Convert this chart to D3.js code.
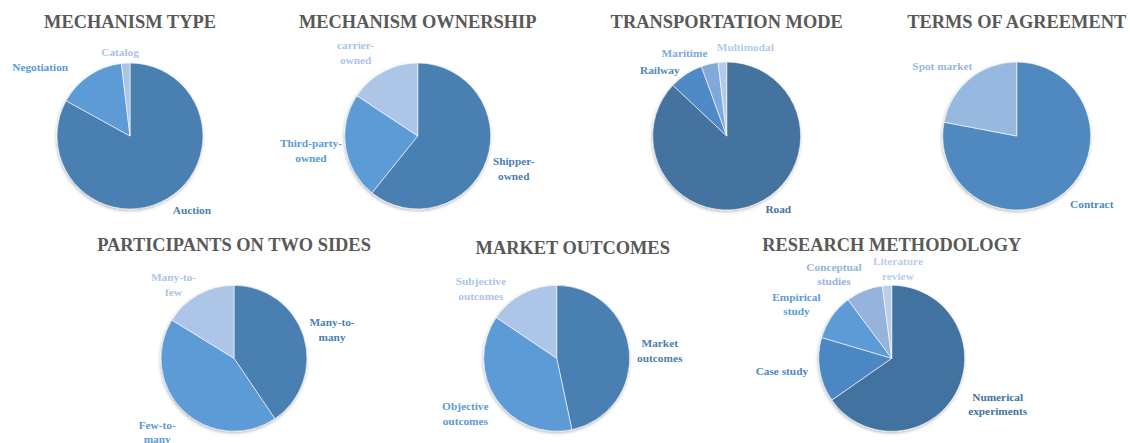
<!DOCTYPE html>
<html>
<head>
<meta charset="utf-8">
<script src="https://cdn.jsdelivr.net/npm/d3@7"></script>
<style>
  body { margin: 0; background: #fff; }
  svg { display: block; }
</style>
</head>
<body>
<script>
// data (counts of papers per category)
const mechanismType = ["Auction", "Negotiation", "Catalog"];
const mechanismTypeValues = [44, 8, 1];

const ownership = ["Shipper-owned", "Third-party-owned", "carrier-owned"];
const ownershipValues = [31, 12, 8];

const transportMode = ["Road", "Railway", "Maritime", "Multimodal"];
const transportModeValues = [47, 4, 2, 1];

const agreement = ["Contract", "Spot market"];
const agreementValues = [39, 11];

const participants = ["Many-to-many", "Few-to-many", "Many-to-few"];
const participantsValues = [15, 16, 6];

const outcomes = ["Market outcomes", "Objective outcomes", "Subjective outcomes"];
const outcomesValues = [21, 17, 7];

const methodology = ["Numerical experiments", "Case study", "Empirical study", "Conceptual studies", "Literature review"];
const methodologyValues = [32, 7, 5, 4, 1];

// label line breaks as in the chart
const labelLines = {
  "Shipper-owned": ["Shipper-", "owned"],
  "Third-party-owned": ["Third-party-", "owned"],
  "carrier-owned": ["carrier-", "owned"],
  "Many-to-many": ["Many-to-", "many"],
  "Few-to-many": ["Few-to-", "many"],
  "Many-to-few": ["Many-to-", "few"],
  "Market outcomes": ["Market", "outcomes"],
  "Objective outcomes": ["Objective", "outcomes"],
  "Subjective outcomes": ["Subjective", "outcomes"],
  "Numerical experiments": ["Numerical", "experiments"],
  "Empirical study": ["Empirical", "study"],
  "Conceptual studies": ["Conceptual", "studies"],
  "Literature review": ["Literature", "review"]
};

const charts = [
  { title: "MECHANISM TYPE", cats: mechanismType, vals: mechanismTypeValues,
    colors: ["#4a7fb1", "#5b9bd5", "#adc4e6"], cx: 130, cy: 136, r: 73,
    nudge: [[11, -2], [-29, 4], [-4, 3.5]] },
  { title: "MECHANISM OWNERSHIP", cats: ownership, vals: ownershipValues,
    colors: ["#4a7fb1", "#5b9bd5", "#adc5e7"], cx: 417.7, cy: 136, r: 73,
    nudge: [[0, 1], [4, 0], [-15, 0]] },
  { title: "TRANSPORTATION MODE", cats: transportMode, vals: transportModeValues,
    colors: ["#44739f", "#5089c6", "#80a9da", "#b5cae9"], cx: 726.7, cy: 136, r: 74,
    nudge: [[14, -9], [-11, 8], [-18, 4], [25, 0]] },
  { title: "TERMS OF AGREEMENT", cats: agreement, vals: agreementValues,
    colors: ["#4f89bf", "#97b8df"], cx: 1016.7, cy: 136, r: 74,
    nudge: [[9, -1], [-3, -1]] },
  { title: "PARTICIPANTS ON TWO SIDES", cats: participants, vals: participantsValues,
    colors: ["#4a7fb1", "#5b9bd5", "#adc5e7"], cx: 234, cy: 358.3, r: 73,
    nudge: [[-1, -1], [-8, 5], [-10, 9]] },
  { title: "MARKET OUTCOMES", cats: outcomes, vals: outcomesValues,
    colors: ["#4a7fb1", "#5b9bd5", "#adc5e7"], cx: 556.7, cy: 358.3, r: 73,
    titleDx: 16, titleDy: 3,
    nudge: [[0, 2], [-5, 2], [-26, 14]] },
  { title: "RESEARCH METHODOLOGY", cats: methodology, vals: methodologyValues,
    colors: ["#42729f", "#4b87c2", "#5b9bd5", "#95b3dc", "#bccde9"], cx: 891.7, cy: 358.3, r: 73,
    nudge: [[8, 2], [-4, -1], [-9, 0], [-17, 4], [13, 5]] }
];

const width = 1133, height = 443;
const lineH = 14.5;

const svg = d3.select("body").append("svg")
  .attr("width", width)
  .attr("height", height);

const defs = svg.append("defs");
defs.append("filter")
  .attr("id", "shadow")
  .attr("x", "-20%").attr("y", "-20%")
  .attr("width", "140%").attr("height", "140%")
  .append("feDropShadow")
  .attr("dx", -0.5).attr("dy", 1.5)
  .attr("stdDeviation", 1.6)
  .attr("flood-color", "#000")
  .attr("flood-opacity", 0.28);

const pie = d3.pie().sort(null).value(d => d.v);

charts.forEach(c => {
  const g = svg.append("g").attr("transform", `translate(${c.cx},${c.cy})`);
  const color = d3.scaleOrdinal().domain(c.cats).range(c.colors);
  const arcs = pie(c.cats.map((k, i) => ({ k, v: c.vals[i] })));
  const arc = d3.arc().innerRadius(0).outerRadius(c.r);

  g.append("g")
    .attr("filter", "url(#shadow)")
    .selectAll("path")
    .data(arcs)
    .join("path")
    .attr("d", arc)
    .attr("fill", d => color(d.data.k))
    .attr("stroke", "#fff")
    .attr("stroke-width", 0.6);

  // title
  g.append("text")
    .attr("x", c.titleDx || 0)
    .attr("y", -114 + (c.titleDy || 0))
    .attr("dy", "0.35em")
    .attr("text-anchor", "middle")
    .style("font-family", "'Liberation Serif', 'Times New Roman', serif")
    .style("font-weight", "bold")
    .style("font-size", "18.4px")
    .attr("fill", "#595959")
    .text(c.title);

  // outside-end labels
  const R = c.r + 8;
  arcs.forEach((d, i) => {
    const mid = (d.startAngle + d.endAngle) / 2;
    const s = Math.sin(mid), co = Math.cos(mid);
    const lines = labelLines[d.data.k] || [d.data.k];
    const t = g.append("text")
      .attr("text-anchor", "middle")
      .style("font-family", "'Liberation Serif', 'Times New Roman', serif")
      .style("font-weight", "bold")
      .style("font-size", "11.3px")
      .attr("fill", color(d.data.k));
    lines.forEach((ln, j) => t.append("tspan").text(ln));
    const w = d3.max(t.selectAll("tspan").nodes(), n => n.getComputedTextLength());
    const h = lines.length * 14;
    const nx = c.nudge[i][0], ny = c.nudge[i][1];
    const lx = R * s + s * w / 2 + nx;
    const ly = -R * co - co * h / 2 + ny;
    t.selectAll("tspan")
      .attr("x", lx)
      .attr("y", (n, j) => ly + (j - (lines.length - 1) / 2) * lineH)
      .attr("dy", "0.35em");
  });
});
</script>
</body>
</html>
